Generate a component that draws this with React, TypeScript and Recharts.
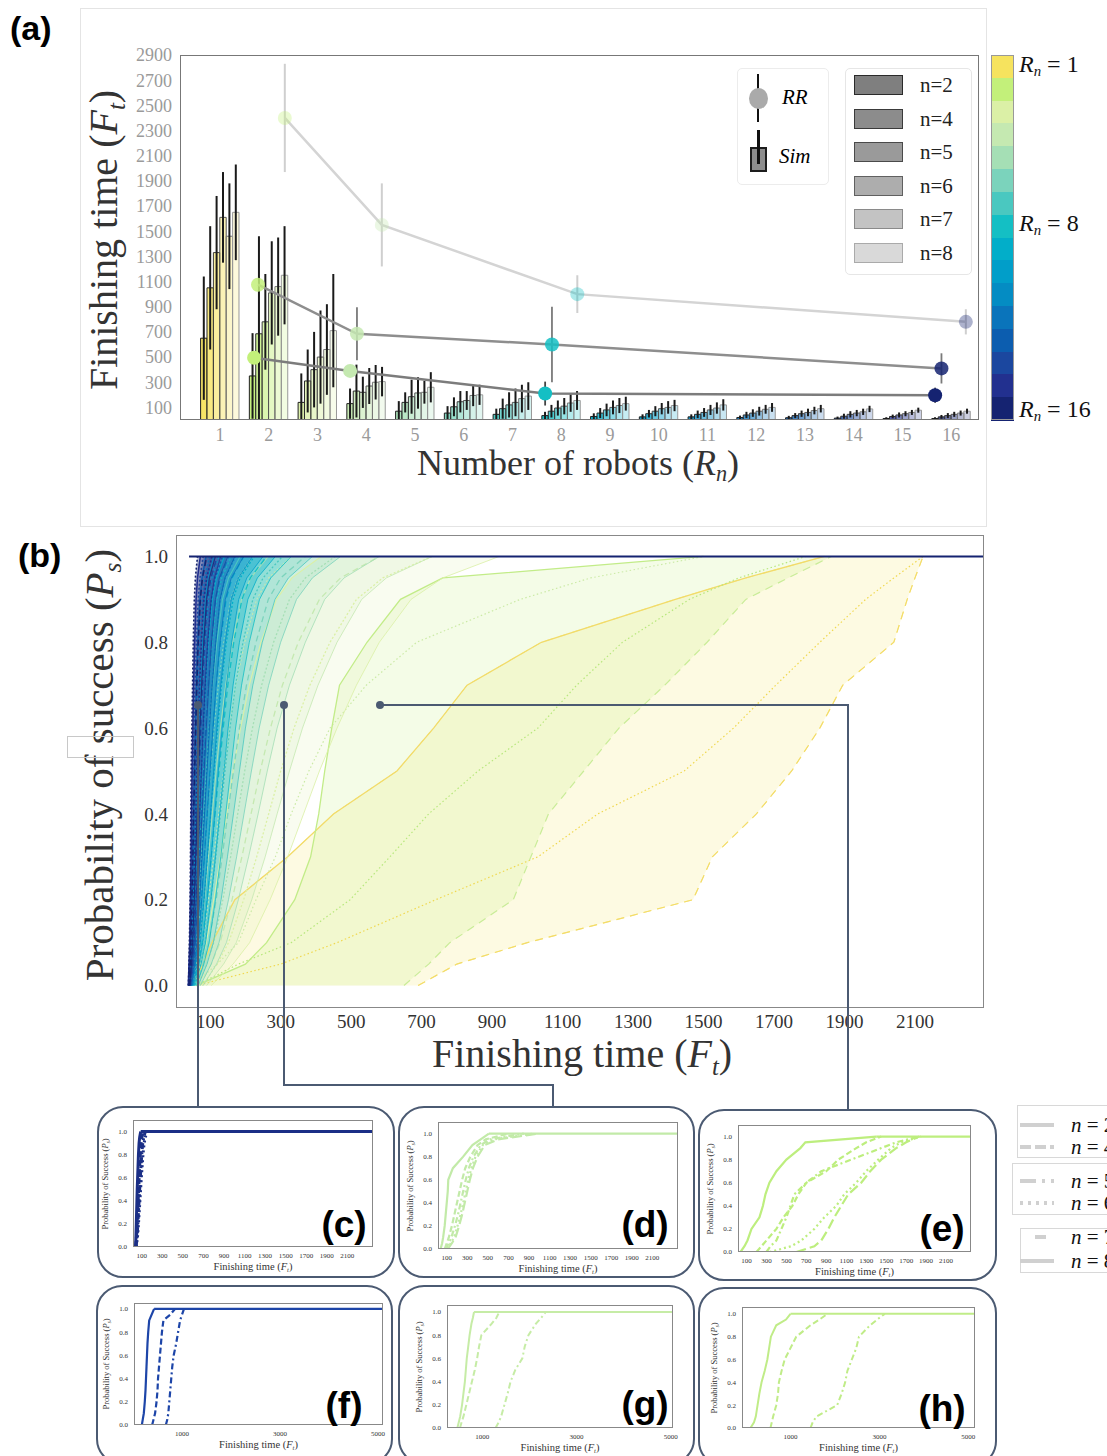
import React from "react";
import {
  ComposedChart,
  Bar,
  Line,
  Area,
  XAxis,
  YAxis,
  ErrorBar,
  Cell,
  ReferenceLine,
} from "recharts";

// ---------- panel (a): simulated finishing times ----------
const rnValues = [1, 2, 3, 4, 5, 6, 7, 8, 9, 10, 11, 12, 13, 14, 15, 16];
const rnColors = [
  "#f6e35e", "#c3f07a", "#dbf0a6", "#c5e9b1", "#a5dfb5", "#7bd3bc", "#4ac8c0", "#14bfc4",
  "#02aec9", "#019ec9", "#048cc3", "#0a74bb", "#0c5daf", "#1b479f", "#22308f", "#152371",
];
const nLabels = ["n=2", "n=4", "n=5", "n=6", "n=7", "n=8"];

const simN2 = [650, 350, 140, 130, 70, 55, 45, 35, 28, 25, 25, 20, 18, 15, 12, 12];
const simN4 = [1050, 685, 310, 230, 140, 105, 90, 70, 55, 50, 45, 40, 35, 30, 28, 25];
const simN5 = [1330, 780, 400, 220, 185, 145, 120, 95, 80, 70, 60, 55, 50, 45, 40, 35];
const simN6 = [1610, 1010, 500, 270, 215, 155, 140, 110, 100, 90, 80, 70, 60, 55, 50, 45];
const simN7 = [1460, 1060, 560, 300, 220, 195, 170, 135, 115, 100, 95, 85, 75, 65, 60, 55];
const simN8 = [1650, 1150, 710, 305, 260, 200, 190, 155, 130, 115, 120, 100, 90, 88, 78, 70];
const errN2 = [490, 340, 230, 120, 80, 55, 45, 30, 25, 20, 20, 15, 15, 12, 10, 10];
const errN4 = [490, 775, 250, 210, 80, 75, 80, 50, 40, 30, 30, 25, 20, 20, 15, 15];
const errN5 = [450, 380, 300, 124, 135, 85, 100, 60, 50, 40, 35, 30, 25, 25, 20, 20];
const errN6 = [360, 410, 370, 143, 125, 75, 110, 65, 55, 45, 40, 35, 30, 25, 20, 20];
const errN7 = [420, 390, 360, 137, 90, 85, 110, 70, 60, 50, 45, 35, 30, 25, 20, 20];
const errN8 = [380, 390, 450, 117, 120, 80, 110, 75, 55, 45, 45, 35, 30, 25, 20, 20];

const simSeries = [simN2, simN4, simN5, simN6, simN7, simN8];
const errSeries = [errN2, errN4, errN5, errN6, errN7, errN8];
const barOpacity = [0.95, 0.78, 0.6, 0.45, 0.32, 0.22];
const barStroke = ["#1e1e1e", "#2c2c2c", "#3c3c3c", "#555", "#777", "#999"];

const barData = rnValues.map((rn, i) => {
  const row: any = { rn };
  simSeries.forEach((s, j) => {
    const e = errSeries[j][i];
    row[`v${j}`] = s[i];
    // error bars stop at zero
    row[`e${j}`] = [Math.min(e, s[i]), e];
  });
  return row;
});

// real robot (RR) experiments
const rrLightX = [2.33, 4.32, 8.33, 16.3];
const rrLightY = [2400, 1550, 1000, 780];
const rrLightErr = [430, 330, 150, 100];
const rrMidX = [1.78, 3.81, 7.81, 15.8];
const rrMidY = [1075, 685, 600, 410];
const rrMidErr = [0, 210, 300, 120];
const rrDarkX = [1.7, 3.67, 7.67, 15.67];
const rrDarkY = [495, 390, 210, 197];
const rrDarkErr = [0, 0, 95, 60];
const rrRn = [2, 4, 8, 16];

const toRR = (xs: number[], ys: number[], es: number[]) =>
  xs.map((x, i) => ({ x, y: ys[i], err: es[i], c: rnColors[rrRn[i] - 1] }));
const rrLight = toRR(rrLightX, rrLightY, rrLightErr);
const rrMid = toRR(rrMidX, rrMidY, rrMidErr);
const rrDark = toRR(rrDarkX, rrDarkY, rrDarkErr);

const yTicksA = [100, 300, 500, 700, 900, 1100, 1300, 1500, 1700, 1900, 2100, 2300, 2500, 2700, 2900];

// ---------- panel (b): probability of success curves ----------
// finishing time at each probability level
const pLevels = [0, 0.05, 0.1, 0.2, 0.3, 0.4, 0.5, 0.6, 0.7, 0.8, 0.9, 0.95, 1];

const r1Edge = [690, 800, 1000, 1470, 1525, 1650, 1750, 1830, 1895, 2040, 2078, 2100, 2123];
const r1Dot = [60, 300, 460, 740, 1030, 1200, 1445, 1585, 1705, 1830, 1960, 2040, 2123];
const r1Solid = [50, 80, 105, 170, 320, 450, 630, 734, 829, 1040, 1420, 1620, 1843];
const r2Edge = [650, 720, 780, 960, 1010, 1060, 1160, 1260, 1390, 1510, 1620, 1740, 1863];
const r2Dot = [60, 180, 330, 497, 610, 720, 860, 1030, 1140, 1270, 1460, 1600, 1790];
const r2Light = [50, 120, 180, 230, 285, 330, 380, 440, 543, 686, 980, 1180, 1500];
const r2Solid = [60, 200, 260, 340, 385, 408, 425, 445, 467, 545, 640, 760, 1500];

const lo3 = [53, 73, 89, 110, 129, 147, 165, 186, 211, 244, 288, 332, 415];
const mid3 = [78, 120, 152, 195, 232, 266, 300, 338, 383, 440, 515, 590, 730];
const hi3 = [103, 165, 212, 270, 320, 365, 410, 460, 515, 580, 670, 760, 920];
const lo4 = [50, 66, 79, 95, 110, 124, 138, 154, 173, 198, 232, 266, 330];
const mid4 = [70, 103, 128, 162, 190, 216, 242, 271, 305, 350, 410, 470, 580];
const hi4 = [90, 138, 174, 218, 256, 290, 325, 362, 406, 460, 530, 600, 730];
const lo5 = [48, 61, 71, 84, 95, 106, 117, 129, 144, 163, 189, 215, 265];
const mid5 = [64, 90, 110, 136, 158, 178, 198, 220, 246, 280, 325, 370, 455];
const hi5 = [80, 118, 146, 180, 209, 236, 262, 290, 325, 370, 425, 480, 580];
const lo6 = [46, 56, 65, 75, 84, 92, 101, 111, 123, 138, 158, 179, 220];
const mid6 = [59, 80, 96, 117, 134, 150, 166, 183, 203, 230, 265, 300, 370];
const hi6 = [72, 103, 125, 152, 175, 196, 217, 239, 266, 300, 345, 390, 470];
const lo7 = [44, 53, 60, 68, 75, 82, 89, 97, 107, 119, 135, 152, 185];
const mid7 = [55, 72, 85, 102, 116, 129, 142, 156, 172, 193, 221, 250, 305];
const hi7 = [66, 91, 109, 131, 149, 166, 183, 200, 221, 248, 284, 322, 390];
const lo8 = [43, 50, 56, 63, 69, 75, 81, 88, 96, 106, 119, 133, 160];
const mid8 = [52, 66, 77, 91, 103, 114, 125, 137, 150, 167, 190, 214, 260];
const hi8 = [61, 82, 97, 115, 130, 144, 158, 172, 189, 211, 240, 272, 330];
const lo9 = [42, 48, 53, 59, 64, 69, 74, 80, 87, 95, 106, 118, 140];
const mid9 = [49, 61, 70, 82, 92, 101, 111, 121, 132, 146, 165, 185, 225];
const hi9 = [57, 74, 87, 102, 115, 127, 139, 151, 165, 183, 207, 234, 285];
const lo10 = [41, 46, 50, 55, 60, 64, 68, 73, 79, 86, 95, 105, 125];
const mid10 = [47, 57, 65, 75, 83, 91, 99, 108, 117, 129, 145, 162, 195];
const hi10 = [54, 68, 79, 92, 103, 113, 123, 134, 146, 161, 181, 204, 250];
const lo11 = [40, 44, 48, 52, 56, 60, 63, 67, 72, 78, 86, 94, 110];
const mid11 = [45, 54, 61, 69, 76, 83, 90, 97, 105, 115, 128, 143, 172];
const hi11 = [51, 63, 72, 83, 92, 101, 110, 119, 130, 143, 160, 180, 220];
const lo12 = [40, 43, 46, 50, 53, 56, 59, 62, 66, 71, 78, 85, 98];
const mid12 = [44, 51, 57, 64, 70, 76, 82, 88, 95, 103, 115, 128, 152];
const hi12 = [49, 59, 67, 76, 84, 92, 100, 108, 117, 128, 143, 160, 195];
const lo13 = [39, 42, 44, 47, 50, 53, 55, 58, 61, 65, 71, 77, 88];
const mid13 = [43, 49, 54, 60, 65, 70, 75, 80, 86, 93, 103, 114, 135];
const hi13 = [47, 56, 62, 70, 77, 84, 91, 98, 106, 116, 128, 142, 170];
const lo14 = [39, 41, 43, 46, 48, 50, 52, 54, 57, 61, 66, 71, 80];
const mid14 = [42, 47, 51, 56, 60, 64, 68, 73, 78, 84, 92, 102, 120];
const hi14 = [45, 53, 58, 65, 71, 77, 83, 89, 96, 104, 115, 126, 150];
const lo15 = [38, 40, 42, 44, 46, 47, 49, 51, 53, 56, 60, 64, 72];
const mid15 = [41, 45, 48, 52, 56, 59, 62, 66, 70, 75, 82, 90, 105];
const hi15 = [43, 50, 54, 60, 65, 70, 75, 80, 86, 93, 103, 112, 130];
const lo16 = [38, 40, 41, 43, 44, 45, 46, 48, 50, 52, 55, 58, 64];
const mid16 = [40, 43, 45, 48, 51, 53, 56, 59, 62, 66, 72, 78, 90];
const hi16 = [42, 47, 50, 55, 59, 63, 67, 71, 76, 82, 90, 98, 115];

const bandSets = [
  { rn: 3, lo: lo3, mid: mid3, hi: hi3 },
  { rn: 4, lo: lo4, mid: mid4, hi: hi4 },
  { rn: 5, lo: lo5, mid: mid5, hi: hi5 },
  { rn: 6, lo: lo6, mid: mid6, hi: hi6 },
  { rn: 7, lo: lo7, mid: mid7, hi: hi7 },
  { rn: 8, lo: lo8, mid: mid8, hi: hi8 },
  { rn: 9, lo: lo9, mid: mid9, hi: hi9 },
  { rn: 10, lo: lo10, mid: mid10, hi: hi10 },
  { rn: 11, lo: lo11, mid: mid11, hi: hi11 },
  { rn: 12, lo: lo12, mid: mid12, hi: hi12 },
  { rn: 13, lo: lo13, mid: mid13, hi: hi13 },
  { rn: 14, lo: lo14, mid: mid14, hi: hi14 },
  { rn: 15, lo: lo15, mid: mid15, hi: hi15 },
  { rn: 16, lo: lo16, mid: mid16, hi: hi16 },
];

const cdfData = pLevels.map((p, i) => {
  const row: any = {
    p,
    r1band: [r1Solid[i], r1Edge[i]],
    r1s: r1Solid[i],
    r1d: r1Dot[i],
    r1e: r1Edge[i],
    r2band: [r2Solid[i], r2Edge[i]],
    r2s: r2Solid[i],
    r2d: r2Dot[i],
    r2l: r2Light[i],
    r2e: r2Edge[i],
  };
  bandSets.forEach((b) => {
    row[`b${b.rn}`] = [b.lo[i], b.hi[i]];
    row[`lo${b.rn}`] = b.lo[i];
    row[`mid${b.rn}`] = b.mid[i];
    row[`hi${b.rn}`] = b.hi[i];
  });
  return row;
});

const xTicksB = [100, 300, 500, 700, 900, 1100, 1300, 1500, 1700, 1900, 2100];
const yTicksP = [0, 0.2, 0.4, 0.6, 0.8, 1.0];

// ---------- panels (c)-(h) ----------
const cSolid = [40, 42, 44, 47, 50, 53, 56, 60, 64, 68, 74, 80, 90];
const cDash = [42, 46, 50, 55, 60, 65, 70, 75, 80, 86, 94, 102, 115];
const cDashDot = [45, 50, 55, 62, 68, 74, 80, 86, 93, 100, 110, 120, 135];
const cDot = [47, 53, 60, 68, 75, 82, 89, 96, 104, 112, 123, 135, 150];

const dSolid = [40, 55, 65, 80, 90, 100, 110, 115, 160, 260, 350, 430, 510];
const dDash = [80, 100, 120, 150, 175, 200, 225, 250, 280, 330, 400, 480, 700];
const dDashDot = [90, 120, 145, 180, 210, 235, 260, 285, 315, 360, 430, 520, 850];
const dDot = [100, 140, 170, 205, 235, 260, 285, 310, 340, 380, 450, 560, 950];
const dLong = [110, 150, 185, 220, 250, 275, 300, 325, 355, 400, 470, 600, 1000];

const eSolid = [40, 80, 110, 150, 230, 265, 290, 330, 400, 500, 640, 690, 1400];
const eDash = [200, 250, 300, 400, 470, 560, 620, 700, 900, 1020, 1200, 1300, 1450];
const eDashDot = [300, 340, 400, 450, 500, 540, 580, 700, 850, 1150, 1450, 1600, 1830];
const eDot = [330, 550, 650, 780, 880, 1000, 1080, 1200, 1300, 1420, 1550, 1650, 1850];
const eLong = [600, 780, 850, 920, 980, 1050, 1120, 1250, 1340, 1450, 1600, 1700, 1830];

const fSolid = [180, 200, 220, 240, 255, 265, 275, 285, 295, 310, 330, 380, 430];
const fDash = [390, 420, 450, 480, 500, 510, 530, 550, 570, 590, 620, 760, 860];
const fDashDot = [670, 700, 720, 740, 760, 780, 800, 830, 880, 920, 960, 1000, 1040];

const gSolid = [470, 500, 530, 570, 600, 630, 650, 670, 700, 730, 770, 800, 824];
const gDash = [525, 560, 600, 660, 720, 780, 840, 890, 930, 980, 1200, 1300, 1360];
const gDashDot = [1280, 1350, 1400, 1470, 1540, 1600, 1700, 1850, 1900, 1980, 2140, 2250, 2350];

const hSolid = [100, 180, 220, 260, 300, 350, 420, 480, 520, 560, 680, 900, 1000];
const hDash = [550, 580, 610, 680, 720, 740, 800, 870, 1000, 1130, 1450, 1650, 1830];
const hDashDot = [1450, 1500, 1580, 2050, 2150, 2230, 2280, 2380, 2480, 2540, 2790, 2950, 3120];

const xTicksSmallA = [100, 300, 500, 700, 900, 1100, 1300, 1500, 1700, 1900, 2100];
const xTicksSmallB = [1000, 3000, 5000];

const dashSolid = undefined;
const dashDashed = "6 3";
const dashDashDot = "6 3 2 3";
const dashDotted = "2 3";
const dashLong = "10 4";

const SERIF = "'Liberation Serif', 'DejaVu Serif', serif";
const SANS = "'Liberation Sans', Arial, sans-serif";

const Mth = ({ base, sub }: { base: string; sub: string }) => (
  <span>
    <i>{base}</i>
    <sub style={{ fontSize: "0.62em", fontStyle: "italic", verticalAlign: "-0.3em" }}>{sub}</sub>
  </span>
);

const Abs = ({ x, y, children, style }: any) => (
  <div style={{ position: "absolute", left: x, top: y, ...style }}>{children}</div>
);

const Rotated = ({ cx, cy, size, color, children }: any) => (
  <div
    style={{
      position: "absolute",
      left: cx,
      top: cy,
      transform: "translate(-50%, -50%) rotate(-90deg)",
      whiteSpace: "nowrap",
      fontFamily: SERIF,
      fontSize: size,
      color,
      lineHeight: 1,
    }}
  >
    {children}
  </div>
);

const Centered = ({ cx, cy, size, color, children, family }: any) => (
  <div
    style={{
      position: "absolute",
      left: cx,
      top: cy,
      transform: "translate(-50%, -50%)",
      whiteSpace: "nowrap",
      fontFamily: family || SERIF,
      fontSize: size,
      color,
      lineHeight: 1,
    }}
  >
    {children}
  </div>
);

const rrDot = (opacity: number) => (props: any) => {
  const { cx, cy, payload, index } = props;
  if (cx == null || cy == null) return <g key={index} />;
  return <circle key={index} cx={cx} cy={cy} r={7} fill={payload.c} fillOpacity={opacity} />;
};

function PanelA() {
  const left = 80;
  const top = 8;
  const w = 907;
  const h = 519;
  return (
    <>
      <div
        style={{
          position: "absolute",
          left,
          top,
          width: w,
          height: h,
          border: "1px solid #e4e4e4",
          boxSizing: "border-box",
        }}
      />
      <div style={{ position: "absolute", left, top }}>
        <ComposedChart
          width={w}
          height={h}
          data={barData}
          barGap={0}
          margin={{ top: 47, right: 8, left: 40, bottom: 77 }}
        >
          <XAxis
            dataKey="rn"
            type="number"
            domain={[0.18, 16.57]}
            ticks={rnValues}
            interval={0}
            allowDataOverflow
            axisLine={false}
            tickLine={false}
            height={30}
            tick={{ fontSize: 18, fill: "#9a9a9a", fontFamily: SERIF }}
          />
          <XAxis xAxisId="rr" dataKey="x" type="number" domain={[0.18, 16.57]} allowDataOverflow hide />
          <YAxis
            type="number"
            domain={[0, 2900]}
            ticks={yTicksA}
            interval={0}
            allowDataOverflow
            axisLine={false}
            tickLine={false}
            width={60}
            tick={{ fontSize: 18, fill: "#9a9a9a", fontFamily: SERIF }}
          />
          {simSeries.map((_, j) => (
            <Bar
              key={nLabels[j]}
              dataKey={`v${j}`}
              barSize={6.4}
              stroke={barStroke[j]}
              strokeWidth={1}
              isAnimationActive={false}
            >
              {barData.map((_d, i) => (
                <Cell key={i} fill={rnColors[i]} fillOpacity={barOpacity[j]} />
              ))}
              <ErrorBar dataKey={`e${j}`} width={0} stroke="#1a1a1a" strokeWidth={2} direction="y" />
            </Bar>
          ))}
          <Line
            xAxisId="rr"
            data={rrLight}
            dataKey="y"
            stroke="#d4d4d4"
            strokeWidth={2.5}
            dot={rrDot(0.35)}
            activeDot={false}
            isAnimationActive={false}
          >
            <ErrorBar dataKey="err" width={0} stroke="#cfcfcf" strokeWidth={2} direction="y" />
          </Line>
          <Line
            xAxisId="rr"
            data={rrMid}
            dataKey="y"
            stroke="#8e8e8e"
            strokeWidth={2.5}
            dot={rrDot(0.85)}
            activeDot={false}
            isAnimationActive={false}
          >
            <ErrorBar dataKey="err" width={0} stroke="#7a7a7a" strokeWidth={1.8} direction="y" />
          </Line>
          <Line
            xAxisId="rr"
            data={rrDark}
            dataKey="y"
            stroke="#7c7c7c"
            strokeWidth={2.5}
            dot={rrDot(1)}
            activeDot={false}
            isAnimationActive={false}
          >
            <ErrorBar dataKey="err" width={0} stroke="#444" strokeWidth={1.8} direction="y" />
          </Line>
        </ComposedChart>
      </div>
      {/* plot frame */}
      <div
        style={{
          position: "absolute",
          left: 180,
          top: 55,
          width: 799,
          height: 365,
          border: "1.5px solid #777",
          boxSizing: "border-box",
          pointerEvents: "none",
        }}
      />
      <Rotated cx={107} cy={240} size={40} color="#333">
        Finishing time (<Mth base="F" sub="t" />)
      </Rotated>
      <Centered cx={578} cy={465} size={36} color="#333">
        Number of robots (<Mth base="R" sub="n" />)
      </Centered>

      {/* RR / Sim legend */}
      <div
        style={{
          position: "absolute",
          left: 737,
          top: 68,
          width: 92,
          height: 117,
          border: "1px solid #ececec",
          borderRadius: 5,
          boxSizing: "border-box",
        }}
      />
      <div style={{ position: "absolute", left: 757, top: 74, width: 2, height: 48, background: "#111" }} />
      <div
        style={{
          position: "absolute",
          left: 749,
          top: 88,
          width: 19,
          height: 21,
          borderRadius: "50%",
          background: "#aaa",
        }}
      />
      <Abs x={782} y={86} style={{ fontFamily: SERIF, fontStyle: "italic", fontSize: 21, lineHeight: "22px" }}>
        RR
      </Abs>
      <div
        style={{
          position: "absolute",
          left: 750,
          top: 147,
          width: 17,
          height: 25,
          background: "#8d8d8d",
          border: "2px solid #1d1d1d",
          boxSizing: "border-box",
        }}
      />
      <div style={{ position: "absolute", left: 757, top: 130, width: 3, height: 34, background: "#111" }} />
      <Abs x={779} y={145} style={{ fontFamily: SERIF, fontStyle: "italic", fontSize: 21, lineHeight: "22px" }}>
        Sim
      </Abs>

      {/* n legend */}
      <div
        style={{
          position: "absolute",
          left: 845,
          top: 68,
          width: 127,
          height: 207,
          border: "1px solid #e6e6e6",
          borderRadius: 5,
          boxSizing: "border-box",
        }}
      />
      {nLabels.map((lab, j) => {
        const greys = ["#7f7f7f", "#8c8c8c", "#9a9a9a", "#adadad", "#c3c3c3", "#d9d9d9"];
        const borders = ["#2a2a2a", "#3a3a3a", "#4a4a4a", "#606060", "#8a8a8a", "#aaaaaa"];
        const cy = 85 + j * 33.6;
        return (
          <React.Fragment key={lab}>
            <div
              style={{
                position: "absolute",
                left: 854,
                top: cy - 10,
                width: 49,
                height: 20,
                background: greys[j],
                border: `1.5px solid ${borders[j]}`,
                boxSizing: "border-box",
              }}
            />
            <Abs x={920} y={cy - 12} style={{ fontFamily: SERIF, fontSize: 21, lineHeight: "24px", color: "#222" }}>
              {lab}
            </Abs>
          </React.Fragment>
        );
      })}

      {/* colour bar */}
      {rnColors.map((c, i) => (
        <div
          key={c}
          style={{
            position: "absolute",
            left: 991,
            top: 55 + (i * 365) / 16,
            width: 23,
            height: 365 / 16 + 0.5,
            background: c,
          }}
        />
      ))}
      <div
        style={{
          position: "absolute",
          left: 991,
          top: 55,
          width: 23,
          height: 365,
          border: "1px solid #999",
          boxSizing: "border-box",
        }}
      />
      {[
        { t: "1", y: 64 },
        { t: "8", y: 223 },
        { t: "16", y: 409 },
      ].map((l) => (
        <Abs
          key={l.t}
          x={1019}
          y={l.y - 14}
          style={{ fontFamily: SERIF, fontSize: 24, lineHeight: "28px", whiteSpace: "nowrap", color: "#111" }}
        >
          <Mth base="R" sub="n" /> = {l.t}
        </Abs>
      ))}
    </>
  );
}

function PanelB() {
  const left = 100;
  const top = 520;
  const w = 890;
  const h = 520;
  return (
    <>
      <div style={{ position: "absolute", left, top }}>
        <ComposedChart
          width={w}
          height={h}
          data={cdfData}
          layout="vertical"
          margin={{ top: 15, right: 7, left: 16, bottom: 5 }}
        >
          <XAxis
            type="number"
            domain={[3, 2293]}
            ticks={xTicksB}
            interval={0}
            allowDataOverflow
            axisLine={false}
            tickLine={false}
            height={28}
            tick={{ fontSize: 19, fill: "#333", fontFamily: SERIF }}
          />
          <YAxis
            type="number"
            dataKey="p"
            domain={[-0.05, 1.05]}
            ticks={yTicksP}
            interval={0}
            reversed
            allowDataOverflow
            axisLine={false}
            tickLine={false}
            width={60}
            tickFormatter={(v: number) => v.toFixed(1)}
            tick={{ fontSize: 19, fill: "#333", fontFamily: SERIF }}
          />
          <Area
            dataKey="r1band"
            type="linear"
            fill={rnColors[0]}
            fillOpacity={0.18}
            stroke={rnColors[0]}
            strokeOpacity={0.7}
            strokeDasharray="8 6"
            isAnimationActive={false}
          />
          <Line dataKey="r1e" type="linear" stroke="#f3dc6a" strokeWidth={1.2} strokeDasharray="8 6" dot={false} isAnimationActive={false} />
          <Line dataKey="r1d" type="linear" stroke="#f0d850" strokeWidth={1.2} strokeDasharray="1.5 2.5" dot={false} isAnimationActive={false} />
          <Line dataKey="r1s" type="linear" stroke="#f2db6a" strokeWidth={1.3} dot={false} isAnimationActive={false} />
          <Area
            dataKey="r2band"
            type="linear"
            fill={rnColors[1]}
            fillOpacity={0.18}
            stroke="none"
            isAnimationActive={false}
          />
          <Line dataKey="r2e" type="linear" stroke="#c9ec98" strokeWidth={1.2} strokeDasharray="8 6" dot={false} isAnimationActive={false} />
          <Line dataKey="r2d" type="linear" stroke="#b7e77c" strokeWidth={1.2} strokeDasharray="1.5 2.5" dot={false} isAnimationActive={false} />
          <Line dataKey="r2l" type="linear" stroke="#cbeaa6" strokeWidth={1.2} strokeDasharray="1.5 2.5" dot={false} isAnimationActive={false} />
          <Line dataKey="r2s" type="linear" stroke="#c2ec88" strokeWidth={1.3} dot={false} isAnimationActive={false} />
          {bandSets.map((b) => {
            const c = rnColors[b.rn - 1];
            const dark = b.rn >= 12;
            return (
              <React.Fragment key={b.rn}>
                <Area
                  dataKey={`b${b.rn}`}
                  type="linear"
                  fill={c}
                  fillOpacity={b.rn >= 9 ? 0.3 : b.rn >= 6 ? 0.22 : 0.17}
                  stroke="none"
                  isAnimationActive={false}
                />
                <Line dataKey={`hi${b.rn}`} type="linear" stroke={c} strokeOpacity={0.8} strokeWidth={1} dot={false} isAnimationActive={false} />
                <Line
                  dataKey={`mid${b.rn}`}
                  type="linear"
                  stroke={c}
                  strokeWidth={dark ? 1.6 : 1.3}
                  strokeDasharray={b.rn % 2 === 0 ? "6 4" : "2 2"}
                  dot={false}
                  isAnimationActive={false}
                />
                <Line
                  dataKey={`lo${b.rn}`}
                  type="linear"
                  stroke={c}
                  strokeWidth={dark ? 1.6 : 1.1}
                  strokeDasharray={b.rn % 2 === 0 ? "2 2" : undefined}
                  dot={false}
                  isAnimationActive={false}
                />
              </React.Fragment>
            );
          })}
          <ReferenceLine
            segment={[
              { x: 40, y: 1 },
              { x: 2293, y: 1 },
            ]}
            stroke={rnColors[15]}
            strokeWidth={2}
            ifOverflow="visible"
          />
        </ComposedChart>
      </div>
      {/* frame */}
      <div
        style={{
          position: "absolute",
          left: 176,
          top: 535,
          width: 808,
          height: 473,
          border: "1.5px solid #888",
          boxSizing: "border-box",
          pointerEvents: "none",
        }}
      />
      <Rotated cx={102} cy={765} size={41} color="#333">
        Probability of success (<Mth base="P" sub="s" />)
      </Rotated>
      <div
        style={{
          position: "absolute",
          left: 67,
          top: 736,
          width: 67,
          height: 22,
          border: "1px solid #c8c8c8",
          boxSizing: "border-box",
        }}
      />
      <Centered cx={582} cy={1057} size={40} color="#333">
        Finishing time (<Mth base="F" sub="t" />)
      </Centered>
    </>
  );
}

interface Curve {
  vals: number[];
  dash?: string;
}
interface SmallProps {
  box: { x: number; y: number; w: number; h: number };
  plot: { l: number; t: number; r: number; b: number };
  curves: Curve[];
  color: string;
  xDomain: [number, number];
  xTicks: number[];
  yMax: number;
  tag: string;
  tagX: number;
  tagY: number;
  lineWidth: number;
}

function SmallPanel({ box, plot, curves, color, xDomain, xTicks, yMax, tag, tagX, tagY, lineWidth }: SmallProps) {
  const data = pLevels.map((p, i) => {
    const row: any = { p };
    curves.forEach((c, k) => {
      row[`c${k}`] = c.vals[i];
    });
    return row;
  });
  const yAxisW = 18;
  const xAxisH = 12;
  return (
    <>
      <div
        style={{
          position: "absolute",
          left: box.x,
          top: box.y,
          width: box.w,
          height: box.h,
          border: "2px solid #4b5a72",
          borderRadius: 26,
          boxSizing: "border-box",
        }}
      />
      <div style={{ position: "absolute", left: box.x, top: box.y }}>
        <ComposedChart
          width={box.w}
          height={box.h}
          data={data}
          layout="vertical"
          margin={{
            top: plot.t - box.y,
            right: box.x + box.w - plot.r,
            left: plot.l - box.x - yAxisW,
            bottom: box.y + box.h - plot.b - xAxisH,
          }}
        >
          <XAxis
            type="number"
            domain={xDomain}
            ticks={xTicks}
            interval={0}
            allowDataOverflow
            axisLine={false}
            tickLine={false}
            tickMargin={0}
            height={xAxisH}
            tick={{ fontSize: 7, fill: "#333", fontFamily: SERIF }}
          />
          <YAxis
            type="number"
            dataKey="p"
            domain={[0, yMax]}
            ticks={yTicksP}
            interval={0}
            reversed
            allowDataOverflow
            axisLine={false}
            tickLine={false}
            tickMargin={0}
            width={yAxisW}
            tickFormatter={(v: number) => v.toFixed(1)}
            tick={{ fontSize: 7, fill: "#333", fontFamily: SERIF }}
          />
          {curves.map((c, k) => (
            <Line
              key={k}
              dataKey={`c${k}`}
              type="linear"
              stroke={color}
              strokeWidth={lineWidth}
              strokeDasharray={c.dash}
              dot={false}
              isAnimationActive={false}
            />
          ))}
          <ReferenceLine
            segment={[
              { x: curves[0].vals[12], y: 1 },
              { x: xDomain[1], y: 1 },
            ]}
            stroke={color}
            strokeWidth={lineWidth}
          />
        </ComposedChart>
      </div>
      <div
        style={{
          position: "absolute",
          left: plot.l,
          top: plot.t,
          width: plot.r - plot.l,
          height: plot.b - plot.t,
          border: "1px solid #888",
          boxSizing: "border-box",
          pointerEvents: "none",
        }}
      />
      <Rotated cx={plot.l - 27} cy={(plot.t + plot.b) / 2} size={8.5} color="#333">
        Probability of Success (<Mth base="P" sub="s" />)
      </Rotated>
      <Centered cx={(plot.l + plot.r) / 2} cy={plot.b + 21} size={10.5} color="#333">
        Finishing time (<Mth base="F" sub="t" />)
      </Centered>
      <Centered cx={tagX} cy={tagY} size={37} color="#000" family={SANS}>
        <b>{tag}</b>
      </Centered>
    </>
  );
}

function SideLegend() {
  const boxes = [
    { x: 1017, y: 1105, h: 53, items: [{ t: "2", y: 1125, dash: "none" }, { t: "4", y: 1147, dash: "11 4" }] },
    { x: 1012, y: 1163, h: 52, items: [{ t: "5", y: 1181, dash: "16 6 3 6" }, { t: "6", y: 1203, dash: "3 5" }] },
    { x: 1020, y: 1228, h: 45, items: [{ t: "7", y: 1237, dash: "short" }, { t: "8", y: 1261, dash: "none" }] },
  ];
  return (
    <>
      {boxes.map((b, bi) => (
        <React.Fragment key={bi}>
          <div
            style={{
              position: "absolute",
              left: b.x,
              top: b.y,
              width: 120,
              height: b.h,
              border: "1px solid #d8d8d8",
              boxSizing: "border-box",
            }}
          />
          {b.items.map((it) => (
            <React.Fragment key={it.t}>
              <svg style={{ position: "absolute", left: 1018, top: it.y - 3 }} width={40} height={6}>
                {it.dash === "short" ? (
                  <line x1={17} y1={3} x2={28} y2={3} stroke="#d0d0d0" strokeWidth={4} />
                ) : (
                  <line
                    x1={2}
                    y1={3}
                    x2={36}
                    y2={3}
                    stroke="#d0d0d0"
                    strokeWidth={4}
                    strokeDasharray={it.dash === "none" ? undefined : it.dash}
                  />
                )}
              </svg>
              <Abs
                x={1071}
                y={it.y - 12}
                style={{ fontFamily: SERIF, fontSize: 21, lineHeight: "24px", whiteSpace: "nowrap", color: "#111" }}
              >
                <i>n</i> = {it.t}
              </Abs>
            </React.Fragment>
          ))}
        </React.Fragment>
      ))}
    </>
  );
}

function Connectors() {
  const c = "#4b5a72";
  return (
    <svg style={{ position: "absolute", left: 0, top: 0, pointerEvents: "none" }} width={1107} height={1456}>
      <polyline points="198,705 198,1106" fill="none" stroke={c} strokeWidth={2} />
      <polyline points="284,705 284,1085 553,1085 553,1106" fill="none" stroke={c} strokeWidth={2} />
      <polyline points="380,705 848,705 848,1109" fill="none" stroke={c} strokeWidth={2} />
      <circle cx={198} cy={705} r={4} fill={c} />
      <circle cx={284} cy={705} r={4} fill={c} />
      <circle cx={380} cy={705} r={4} fill={c} />
    </svg>
  );
}

export default function App() {
  return (
    <div
      style={{
        position: "absolute",
        left: 0,
        top: 0,
        width: 1107,
        height: 1456,
        overflow: "hidden",
        background: "#fff",
      }}
    >
      <PanelA />
      <PanelB />
      <Connectors />
      <SmallPanel
        box={{ x: 97, y: 1106, w: 298, h: 172 }}
        plot={{ l: 133, t: 1120, r: 373, b: 1247 }}
        curves={[
          { vals: cSolid, dash: dashSolid },
          { vals: cDash, dash: dashDashed },
          { vals: cDashDot, dash: dashDashDot },
          { vals: cDot, dash: dashDotted },
        ]}
        color="#1b2f86"
        xDomain={[15, 2350]}
        xTicks={xTicksSmallA}
        yMax={1.1}
        tag="(c)"
        tagX={344}
        tagY={1224}
        lineWidth={3}
      />
      <SmallPanel
        box={{ x: 398, y: 1106, w: 297, h: 172 }}
        plot={{ l: 438, t: 1122, r: 678, b: 1249 }}
        curves={[
          { vals: dSolid, dash: dashSolid },
          { vals: dDash, dash: dashDashed },
          { vals: dDashDot, dash: dashDashDot },
          { vals: dDot, dash: dashDotted },
          { vals: dLong, dash: dashLong },
        ]}
        color="#c2eaa8"
        xDomain={[15, 2350]}
        xTicks={xTicksSmallA}
        yMax={1.1}
        tag="(d)"
        tagX={645}
        tagY={1224}
        lineWidth={2.2}
      />
      <SmallPanel
        box={{ x: 698, y: 1109, w: 299, h: 172 }}
        plot={{ l: 738, t: 1125, r: 971, b: 1252 }}
        curves={[
          { vals: eSolid, dash: dashSolid },
          { vals: eDash, dash: dashDashed },
          { vals: eDashDot, dash: dashDashDot },
          { vals: eDot, dash: dashDotted },
          { vals: eLong, dash: dashLong },
        ]}
        color="#bdee7e"
        xDomain={[15, 2350]}
        xTicks={xTicksSmallA}
        yMax={1.1}
        tag="(e)"
        tagX={942}
        tagY={1228}
        lineWidth={2.2}
      />
      <SmallPanel
        box={{ x: 96, y: 1285, w: 297, h: 180 }}
        plot={{ l: 134, t: 1303, r: 383, b: 1425 }}
        curves={[
          { vals: fSolid, dash: dashSolid },
          { vals: fDash, dash: dashDashed },
          { vals: fDashDot, dash: dashDashDot },
        ]}
        color="#1d45a8"
        xDomain={[20, 5100]}
        xTicks={xTicksSmallB}
        yMax={1.05}
        tag="(f)"
        tagX={344}
        tagY={1405}
        lineWidth={2.2}
      />
      <SmallPanel
        box={{ x: 398, y: 1285, w: 297, h: 180 }}
        plot={{ l: 447, t: 1305, r: 673, b: 1428 }}
        curves={[
          { vals: gSolid, dash: dashSolid },
          { vals: gDash, dash: dashDashed },
          { vals: gDashDot, dash: dashDashDot },
        ]}
        color="#c6eca6"
        xDomain={[250, 5050]}
        xTicks={xTicksSmallB}
        yMax={1.06}
        tag="(g)"
        tagX={645}
        tagY={1404}
        lineWidth={2}
      />
      <SmallPanel
        box={{ x: 698, y: 1287, w: 299, h: 180 }}
        plot={{ l: 742, t: 1307, r: 975, b: 1428 }}
        curves={[
          { vals: hSolid, dash: dashSolid },
          { vals: hDash, dash: dashDashed },
          { vals: hDashDot, dash: dashDashDot },
        ]}
        color="#c0ec88"
        xDomain={[-90, 5150]}
        xTicks={xTicksSmallB}
        yMax={1.06}
        tag="(h)"
        tagX={942}
        tagY={1408}
        lineWidth={2}
      />
      <SideLegend />
      <Abs x={10} y={8} style={{ fontFamily: SANS, fontWeight: "bold", fontSize: 34, lineHeight: "40px" }}>
        (a)
      </Abs>
      <Abs x={18} y={535} style={{ fontFamily: SANS, fontWeight: "bold", fontSize: 34, lineHeight: "40px" }}>
        (b)
      </Abs>
    </div>
  );
}
